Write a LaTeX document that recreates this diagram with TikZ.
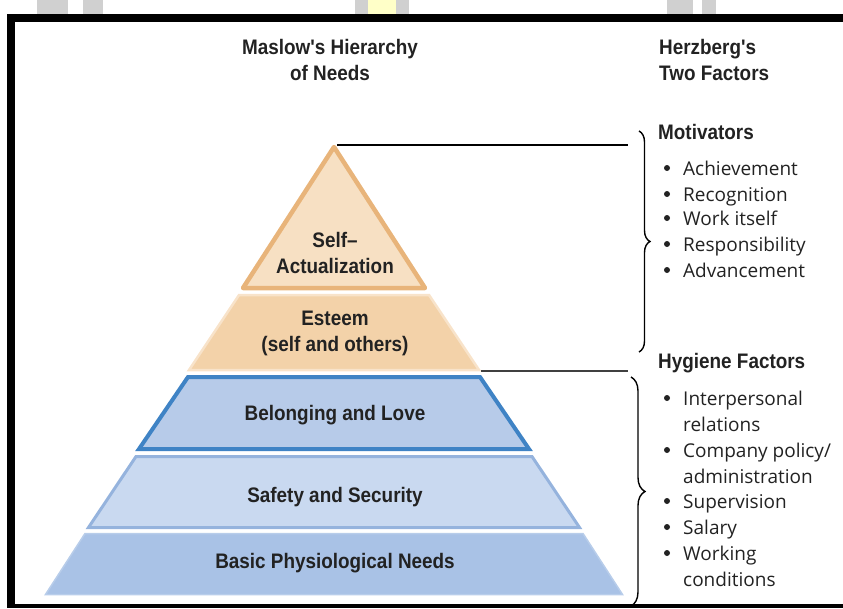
\documentclass[tikz,border=0pt]{standalone}
\usepackage{fontspec}
\setmainfont{Liberation Sans}
\newfontfamily\condfont[FakeStretch=0.9]{Liberation Sans}
\newfontfamily\itemfont{Open Sans}
\usetikzlibrary{decorations.pathreplacing}
\definecolor{wmgrey}{HTML}{D0D0D0}
\definecolor{wmyellow}{HTML}{FFFFC8}
\definecolor{saFill}{HTML}{F7E0C3}
\definecolor{saLine}{HTML}{E8B47A}
\definecolor{esFill}{HTML}{F3D2A9}
\definecolor{esLine}{HTML}{F8E3CA}
\definecolor{blFill}{HTML}{B7CBE9}
\definecolor{blLine}{HTML}{3F83C5}
\definecolor{ssFill}{HTML}{C9D9F0}
\definecolor{ssLine}{HTML}{95B3DD}
\definecolor{bpFill}{HTML}{A9C2E6}
\definecolor{bpLine}{HTML}{B8CDEA}
\definecolor{txt}{HTML}{222222}
\begin{document}
\begin{tikzpicture}[x=1pt,y=-1pt,
  lbl/.style={font=\condfont\fontsize{21}{26}\selectfont\bfseries, align=center, inner sep=0pt, text=txt},
  hd/.style={font=\condfont\fontsize{21}{26}\selectfont\bfseries, anchor=base west, inner sep=0pt, text=txt},
  itm/.style={font=\itemfont\fontsize{19}{22}\selectfont, anchor=base west, inner sep=0pt, text=txt},
  bul/.style={circle, fill=txt, inner sep=0pt, minimum size=6pt},
  brc/.style={decorate, decoration={brace, amplitude=#1}, line width=1.4pt, black},
  conn/.style={line width=1.3pt, black}]
\useasboundingbox (0,0) rectangle (843,608);
% watermark blocks above the frame
\fill[wmgrey] (37,0) rectangle (68,14);
\fill[wmgrey] (83,0) rectangle (103,14);
\fill[wmgrey] (355,0) rectangle (368,14);
\fill[wmyellow] (368,0) rectangle (396,14);
\fill[wmgrey] (396,0) rectangle (409,14);
\fill[wmgrey] (667,0) rectangle (693,14);
\fill[wmgrey] (702,0) rectangle (716,14);
% frame
\fill[black] (7,14) rectangle (843,22);
\fill[black] (7,14) rectangle (15,608);
\fill[black] (7,604) rectangle (843,608);
% pyramid
\filldraw[fill=saFill, draw=saLine, line width=4.5pt, line join=round]
  (334,147) -- (243,288) -- (425,288) -- cycle;
\filldraw[fill=esFill, draw=esLine, line width=2.5pt]
  (239,295) -- (429,295) -- (479,370) -- (189,370) -- cycle;
\filldraw[fill=blFill, draw=blLine, line width=4pt]
  (188,377) -- (480,377) -- (529,449) -- (139,449) -- cycle;
\filldraw[fill=ssFill, draw=ssLine, line width=3pt]
  (136,456.5) -- (532,456.5) -- (579.5,527.5) -- (88.5,527.5) -- cycle;
\filldraw[fill=bpFill, draw=bpLine, line width=1.5pt]
  (85,533.5) -- (583,533.5) -- (622.5,594.5) -- (45.5,594.5) -- cycle;
% pyramid labels
\node[lbl] (sa) at (335,253) {Self–\\Actualization};
\node[lbl] (es) at (335,333) {Esteem\\(self and others)};
\node[lbl] (bl) at (335,415) {Belonging and Love};
\node[lbl] (ss) at (335,497) {Safety and Security};
\node[lbl] (bp) at (335,563) {Basic Physiological Needs};
% headers
\node[lbl] (maslow) at (330,60) {Maslow's Hierarchy\\of Needs};
\node[lbl, anchor=west, align=left] (herz) at (659,60) {Herzberg's\\Two Factors};
% connectors
\coordinate (apex) at (337,145);
\coordinate (topend) at (628,145);
\coordinate (midstart) at (481,371);
\coordinate (midend) at (628,371);
\draw[conn] (apex) -- (topend);
\draw[conn, black!75] (midstart) -- (midend);
\coordinate (b1top) at (639,131);
\coordinate (b1bot) at (639,352);
\coordinate (b2top) at (631,377);
\coordinate (b2bot) at (631,606);
\draw[brc=11pt] (b1top) -- (b1bot);
\draw[brc=14pt] (b2top) -- (b2bot);
% Motivators
\node[hd] (mot) at (658,139) {Motivators};
\node[bul] (m1b) at (667,168) {};
\node[itm] (m1) at (683,175) {Achievement};
\node[bul] (m2b) at (667,194) {};
\node[itm] (m2) at (683,201) {Recognition};
\node[bul] (m3b) at (667,218) {};
\node[itm] (m3) at (683,225) {Work itself};
\node[bul] (m4b) at (667,244) {};
\node[itm] (m4) at (683,251) {Responsibility};
\node[bul] (m5b) at (667,270) {};
\node[itm] (m5) at (683,277) {Advancement};
% Hygiene
\node[hd] (hyg) at (658,368) {Hygiene Factors};
\node[bul] (h1b) at (667,398) {};
\node[itm] (h1) at (683,405) {Interpersonal};
\node[itm] (h1c) at (683,431) {relations};
\node[bul] (h2b) at (667,450) {};
\node[itm] (h2) at (683,457) {Company policy/};
\node[itm] (h2c) at (683,483) {administration};
\node[bul] (h3b) at (667,501) {};
\node[itm] (h3) at (683,508) {Supervision};
\node[bul] (h4b) at (667,527) {};
\node[itm] (h4) at (683,534) {Salary};
\node[bul] (h5b) at (667,553) {};
\node[itm] (h5) at (683,560) {Working};
\node[itm] (h5c) at (683,586) {conditions};
\end{tikzpicture}
\end{document}
